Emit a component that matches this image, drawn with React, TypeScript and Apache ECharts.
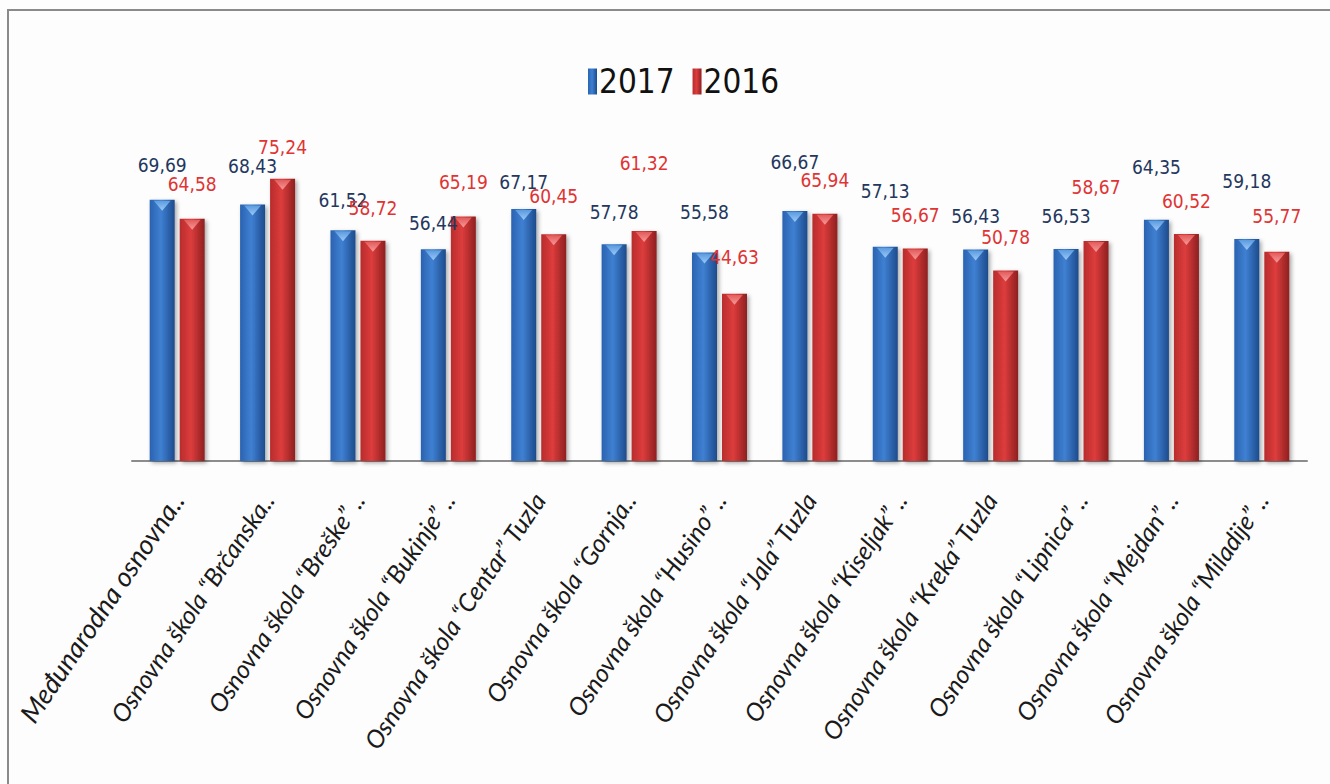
import React, { useEffect, useRef } from "react";
import * as echarts from "echarts";

const categories = [
  "Međunarodna osnovna..",
  "Osnovna škola “Brčanska..",
  "Osnovna škola “Breške” ..",
  "Osnovna škola “Bukinje” ..",
  "Osnovna škola “Centar” Tuzla",
  "Osnovna škola “Gornja..",
  "Osnovna škola “Husino” ..",
  "Osnovna škola “Jala” Tuzla",
  "Osnovna škola “Kiseljak” ..",
  "Osnovna škola “Kreka” Tuzla",
  "Osnovna škola “Lipnica” ..",
  "Osnovna škola “Mejdan” ..",
  "Osnovna škola “Miladije” ..",
];
const values2017 = [69.69, 68.43, 61.52, 56.44, 67.17, 57.78, 55.58, 66.67, 57.13, 56.43, 56.53, 64.35, 59.18];
const values2016 = [64.58, 75.24, 58.72, 65.19, 60.45, 61.32, 44.63, 65.94, 56.67, 50.78, 58.67, 60.52, 55.77];
const seriesNames = ["2017", "2016"];

// label lift above bar top (px), styling only
const lift2017 = [34, 38, 30, 26, 27, 32, 40, 48, 55, 33, 33, 52, 58];
const lift2016 = [34, 31, 32, 34, 38, 68, 36, 33, 33, 33, 53, 33, 35];

const fmt = (v: number) => v.toFixed(2).replace(".", ",");
const NARROW = "'Liberation Sans Narrow', 'DejaVu Sans Condensed', 'Roboto Condensed', sans-serif";

export default function App() {
  const ref = useRef<HTMLDivElement>(null);
  useEffect(() => {
    if (!ref.current) return;
    const chart = echarts.init(ref.current, null, { renderer: "svg" });
    const blueGrad = new echarts.graphic.LinearGradient(0, 0, 1, 0, [
      { offset: 0, color: "#2a63b0" },
      { offset: 0.45, color: "#3f80d2" },
      { offset: 1, color: "#1d4b8c" },
    ]);
    const redGrad = new echarts.graphic.LinearGradient(0, 0, 1, 0, [
      { offset: 0, color: "#b82c2c" },
      { offset: 0.45, color: "#dd3c3c" },
      { offset: 1, color: "#8e2020" },
    ]);
    const blueTri = new echarts.graphic.LinearGradient(0, 0, 0, 1, [
      { offset: 0, color: "#9cc8f5" },
      { offset: 1, color: "#5a9be0" },
    ]);
    const redTri = new echarts.graphic.LinearGradient(0, 0, 0, 1, [
      { offset: 0, color: "#f59a9a" },
      { offset: 1, color: "#e45a5a" },
    ]);
    const shadow = {
      shadowColor: "rgba(0,0,0,0.35)",
      shadowBlur: 4,
      shadowOffsetX: 2,
      shadowOffsetY: 2,
    };
    const labelBase = {
      show: true,
      position: "top" as const,
      distance: 5,
      fontFamily: NARROW,
      fontSize: 19,
    };
    chart.setOption({
      animation: false,
      backgroundColor: "#fdfdfd",
      graphic: [
        {
          type: "rect",
          shape: { x: 8, y: 10, width: 1400, height: 900 },
          style: { fill: "none", stroke: "#8a8a8a", lineWidth: 2 },
          silent: true,
        },
      ],
      legend: {
        data: seriesNames.map((n) => ({ name: n, icon: "rect" })),
        left: 583,
        top: 60,
        itemWidth: 9,
        itemHeight: 26,
        itemGap: 18,
        textStyle: {
          fontFamily: NARROW,
          fontSize: 33,
          color: "#111",
          padding: [0, 0, 0, -3],
        },
      },
      grid: { left: 132, right: 23, top: 161, bottom: 323, containLabel: false },
      xAxis: {
        type: "category",
        data: categories,
        axisLine: { lineStyle: { color: "#8c8c8c", width: 2 } },
        axisTick: { show: false },
        axisLabel: {
          interval: 0,
          rotate: 56,
          margin: 34,
          color: "#1a1a1a",
          formatter: (v: string, i: number) => (i === 0 ? `{a|${v}}` : `{b|${v}}`),
          rich: {
            a: { fontFamily: "Lato, 'Open Sans', sans-serif", fontStyle: "italic", fontSize: 27, color: "#1a1a1a" },
            b: { fontFamily: "Lato, 'Open Sans', sans-serif", fontStyle: "italic", fontSize: 25, color: "#1a1a1a" },
          },
        },
      },
      yAxis: { type: "value", min: 0, max: 80, show: false, splitLine: { show: false } },
      series: [
        {
          name: "2017",
          type: "bar",
          barWidth: 25,
          barGap: "20%",
          itemStyle: { color: blueGrad, ...shadow },
          label: { ...labelBase, color: "#24375e", formatter: (p: any) => fmt(p.value) },
          data: values2017.map((v, i) => ({ value: v, label: { offset: [0, -(lift2017[i] - 14)] } })),
        },
        {
          name: "2016",
          type: "bar",
          barWidth: 25,
          barGap: "20%",
          itemStyle: { color: redGrad, ...shadow },
          label: { ...labelBase, color: "#e03434", formatter: (p: any) => fmt(p.value) },
          data: values2016.map((v, i) => ({ value: v, label: { offset: [0, -(lift2016[i] - 14)] } })),
        },
        {
          name: "2017t",
          type: "pictorialBar",
          barWidth: 25,
          barGap: "20%",
          symbol: "triangle",
          symbolRotate: 180,
          symbolSize: [17, 10],
          symbolPosition: "end",
          symbolOffset: [0, 1],
          itemStyle: { color: blueTri },
          silent: true,
          z: 3,
          data: values2017,
        },
        {
          name: "2016t",
          type: "pictorialBar",
          barWidth: 25,
          barGap: "20%",
          symbol: "triangle",
          symbolRotate: 180,
          symbolSize: [17, 10],
          symbolPosition: "end",
          symbolOffset: [0, 1],
          itemStyle: { color: redTri },
          silent: true,
          z: 3,
          data: values2016,
        },
      ],
    });
    return () => chart.dispose();
  }, []);
  return (
    <div
      ref={ref}
      style={{ position: "fixed", left: 0, top: 0, width: 1330, height: 784 }}
    />
  );
}
